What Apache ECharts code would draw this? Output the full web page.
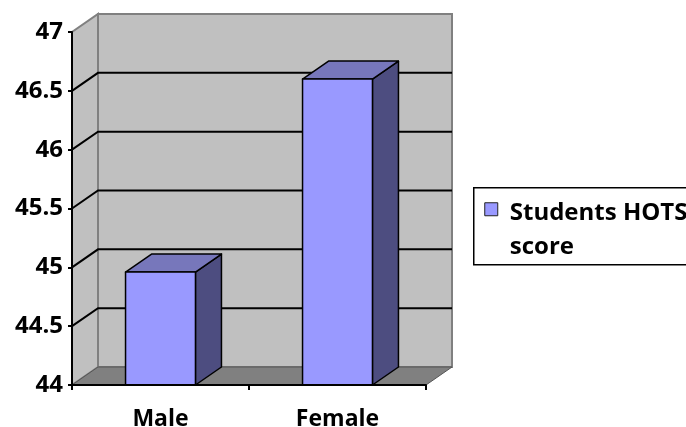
<!DOCTYPE html>
<html>
<head>
    <meta charset="utf-8" />
    <title>Students HOTS score</title>
    <script type="text/javascript" src="https://cdn.jsdelivr.net/npm/echarts@6/dist/echarts.min.js"></script>
    <style>
        html, body { margin: 0; padding: 0; background: #fff; }
    </style>
</head>
<body>
<div id="main" style="width: 686px;height:427px;"></div>
<script type="text/javascript">
    // data
    var categories = ['Male', 'Female'];
    var scores = [44.96, 46.6];
    var seriesName = 'Students HOTS score';
    var yMin = 44, yMax = 47, yStep = 0.5;

    // 3d look: depth offset of the back wall
    var DX = 26, DY = -18;
    var FONT = 'Open Sans';

    var myChart = echarts.init(document.getElementById('main'));

    // walls + floor, placed through the axes
    function renderWalls(params, api) {
        var c0 = api.coord([0, yMin]);
        var band = api.size([1, 0])[0];
        var left = c0[0] - band / 2;
        var right = left + band * categories.length;
        var bottom = c0[1];
        var top = api.coord([0, yMax])[1];
        var kids = [];
        // back wall
        kids.push({
            type: 'rect',
            shape: { x: left + DX, y: top + DY, width: right - left, height: bottom - top },
            style: { fill: '#c0c0c0', stroke: '#808080', lineWidth: 2 }
        });
        // left side wall
        kids.push({
            type: 'polygon',
            shape: { points: [[left, bottom], [left, top], [left + DX, top + DY], [left + DX, bottom + DY]] },
            style: { fill: '#c0c0c0', stroke: '#808080', lineWidth: 2 }
        });
        // floor
        kids.push({
            type: 'polygon',
            shape: { points: [[left, bottom], [right, bottom], [right + DX, bottom + DY], [left + DX, bottom + DY]] },
            style: { fill: '#808080', stroke: '#555555', lineWidth: 1 }
        });
        // grid lines: side wall diagonals + back wall
        for (var v = yMin + yStep; v < yMax - 1e-9; v += yStep) {
            var y = api.coord([0, v])[1];
            kids.push({
                type: 'polyline',
                shape: { points: [[left, y], [left + DX, y + DY], [right + DX, y + DY]] },
                style: { fill: null, stroke: '#000', lineWidth: 2 }
            });
        }
        return { type: 'group', children: kids };
    }

    function renderBar(params, api) {
        var base = api.coord([api.value(0), yMin]);
        var topPt = api.coord([api.value(0), api.value(1)]);
        var band = api.size([1, 0])[0];
        var w = band * 0.395;
        var x0 = base[0] - w / 2, x1 = base[0] + w / 2;
        var yt = topPt[1], yb = base[1];
        var line = { stroke: '#000', lineWidth: 1.5, lineJoin: 'round' };
        return {
            type: 'group',
            children: [
                {
                    type: 'polygon',
                    shape: { points: [[x1, yt], [x1 + DX, yt + DY], [x1 + DX, yb + DY], [x1, yb]] },
                    style: Object.assign({ fill: '#4d4d80' }, line)
                },
                {
                    type: 'polygon',
                    shape: { points: [[x0, yt], [x1, yt], [x1 + DX, yt + DY], [x0 + DX, yt + DY]] },
                    style: Object.assign({ fill: '#7777bb' }, line)
                },
                {
                    type: 'rect',
                    shape: { x: x0, y: yt, width: w, height: yb - yt },
                    style: Object.assign({ fill: '#9999ff' }, line)
                }
            ]
        };
    }

    var barData = [];
    for (var i = 0; i < categories.length; i++) barData.push([i, scores[i]]);

    var option = {
        animation: false,
        grid: { left: 72, right: 260, top: 32, bottom: 42, outerBoundsMode: 'none' },
        xAxis: {
            type: 'category',
            data: categories,
            axisLine: { lineStyle: { color: '#000', width: 2 } },
            axisTick: { show: true, length: 5, lineStyle: { color: '#000', width: 2 } },
            axisLabel: { color: '#000', fontFamily: FONT, fontWeight: 'bold', fontSize: 23, margin: 23 },
            z: 10
        },
        yAxis: {
            type: 'value',
            min: yMin,
            max: yMax,
            interval: yStep,
            axisLine: { show: true, lineStyle: { color: '#000', width: 2 } },
            axisTick: { show: true, length: 4, lineStyle: { color: '#000', width: 2 } },
            splitLine: { show: false },
            axisLabel: { color: '#000', fontFamily: FONT, fontWeight: 'bold', fontSize: 24, margin: 9 },
            z: 10
        },
        series: [
            {
                type: 'custom',
                name: 'walls',
                silent: true,
                clip: false,
                z: 1,
                data: [[0, yMin]],
                renderItem: renderWalls
            },
            {
                type: 'custom',
                name: seriesName,
                clip: false,
                z: 5,
                data: barData,
                encode: { x: 0, y: 1 },
                renderItem: renderBar
            }
        ],
        graphic: [
            {
                type: 'group',
                left: 473,
                top: 187,
                children: [
                    {
                        type: 'rect',
                        shape: { x: 0, y: 0, width: 240, height: 77 },
                        style: { fill: '#fff', stroke: '#000', lineWidth: 1.5 }
                    },
                    {
                        type: 'rect',
                        shape: { x: 11, y: 15, width: 13, height: 13 },
                        style: { fill: '#9999ff', stroke: '#222', lineWidth: 1 }
                    },
                    {
                        type: 'text',
                        x: 36,
                        y: 8,
                        style: {
                            text: 'Students HOTS\nscore',
                            fill: '#000',
                            font: 'bold 24px "Open Sans"',
                            lineHeight: 34
                        }
                    }
                ]
            }
        ]
    };
    myChart.setOption(option);
</script>
</body>
</html>
